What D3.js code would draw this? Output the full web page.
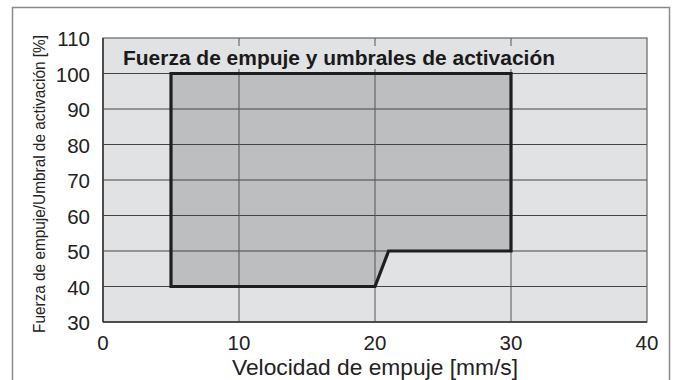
<!DOCTYPE html>
<html>
<head>
<meta charset="utf-8">
<script src="https://cdn.jsdelivr.net/npm/d3@7"></script>
<style>
  body { margin: 0; background: #fff; }
  svg { display: block; font-family: "Liberation Sans", Arial, sans-serif; }
</style>
</head>
<body>
<script>
const width = 675;
const height = 380;

// Data
const xTicks = [0, 10, 20, 30, 40];
const yTicks = [30, 40, 50, 60, 70, 80, 90, 100, 110];
// region outline: [speed mm/s, force %]
const regionX = [5, 5, 30, 30, 21, 20];
const regionY = [40, 100, 100, 50, 50, 40];

const chartTitle = "Fuerza de empuje y umbrales de activación";
const xTitle = "Velocidad de empuje [mm/s]";
const yTitle = "Fuerza de empuje/Umbral de activación [%]";

const svg = d3.select("body").append("svg")
  .attr("width", width)
  .attr("height", height);

// outer frame
svg.append("rect")
  .attr("x", 12.5).attr("y", 7.5)
  .attr("width", 657).attr("height", 390)
  .attr("fill", "none")
  .attr("stroke", "#8a8a8a")
  .attr("stroke-width", 1.5);

const x = d3.scaleLinear().domain([0, 40]).range([103, 647]);
const y = d3.scaleLinear().domain([30, 110]).range([322, 38]);

const hLines = yTicks.filter(d => d > 30 && d < 110);
const vLines = xTicks.filter(d => d > 0 && d < 40);

// plot background
svg.append("rect")
  .attr("x", x(0)).attr("y", y(110))
  .attr("width", x(40) - x(0)).attr("height", y(30) - y(110))
  .attr("fill", "#e1e2e4");

// region fill
const pts = regionX.map((d, i) => [x(d), y(regionY[i])]);
svg.append("path")
  .attr("d", d3.line()(pts) + "Z")
  .attr("fill", "#bdbec0")
  .attr("stroke", "none");

// grid
svg.append("g").selectAll("line")
  .data(hLines)
  .join("line")
  .attr("x1", x(0)).attr("x2", x(40))
  .attr("y1", d => y(d)).attr("y2", d => y(d))
  .attr("stroke", "#444").attr("stroke-width", 1);
svg.append("g").selectAll("line")
  .data(vLines)
  .join("line")
  .attr("x1", d => x(d)).attr("x2", d => x(d))
  .attr("y1", y(110)).attr("y2", y(30))
  .attr("stroke", "#555").attr("stroke-width", 1);

// title background box
svg.append("rect")
  .attr("x", x(0) + 1).attr("y", 46)
  .attr("width", 456).attr("height", 23)
  .attr("fill", "#e1e2e4");

svg.append("path")
  .attr("d", d3.line()(pts) + "Z")
  .attr("fill", "none")
  .attr("stroke", "#1e1e1e")
  .attr("stroke-width", 3.2)
  .attr("stroke-linejoin", "miter");

// plot border
svg.append("rect")
  .attr("x", x(0)).attr("y", y(110))
  .attr("width", x(40) - x(0)).attr("height", y(30) - y(110))
  .attr("fill", "none")
  .attr("stroke", "#666").attr("stroke-width", 1.2);
svg.append("line")
  .attr("x1", x(0)).attr("x2", x(40))
  .attr("y1", y(30)).attr("y2", y(30))
  .attr("stroke", "#333").attr("stroke-width", 1.5);
svg.append("line")
  .attr("x1", x(0)).attr("x2", x(0))
  .attr("y1", y(110)).attr("y2", y(30))
  .attr("stroke", "#333").attr("stroke-width", 1.5);

// chart title
svg.append("text")
  .attr("x", 123).attr("y", 65)
  .attr("font-size", 20)
  .attr("font-weight", "bold")
  .attr("textLength", 432)
  .attr("lengthAdjust", "spacingAndGlyphs")
  .attr("fill", "#1a1a1a")
  .text(chartTitle);

// tick labels
svg.append("g").selectAll("text")
  .data(yTicks)
  .join("text")
  .attr("x", 90)
  .attr("y", d => y(d) + 8)
  .attr("text-anchor", "end")
  .attr("font-size", 20.5)
  .attr("fill", "#222")
  .text(d => d);

svg.append("g").selectAll("text")
  .data(xTicks)
  .join("text")
  .attr("x", d => x(d))
  .attr("y", 350)
  .attr("text-anchor", "middle")
  .attr("font-size", 20.5)
  .attr("fill", "#222")
  .text(d => d);

// axis titles
svg.append("text")
  .attr("x", 375).attr("y", 375)
  .attr("text-anchor", "middle")
  .attr("font-size", 22)
  .attr("textLength", 286)
  .attr("lengthAdjust", "spacingAndGlyphs")
  .attr("fill", "#222")
  .text(xTitle);

svg.append("text")
  .attr("transform", "translate(45,184) rotate(-90)")
  .attr("text-anchor", "middle")
  .attr("font-family", "'Liberation Sans Narrow', 'Liberation Sans', sans-serif")
  .attr("font-size", 16)
  .attr("textLength", 298)
  .attr("lengthAdjust", "spacingAndGlyphs")
  .attr("fill", "#222")
  .text(yTitle);
</script>
</body>
</html>
